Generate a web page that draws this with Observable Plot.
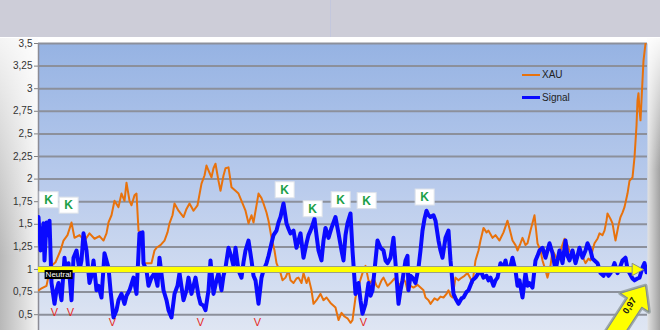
<!DOCTYPE html>
<html><head><meta charset="utf-8">
<script src="https://cdn.jsdelivr.net/npm/d3@7"></script>
<script src="https://cdn.jsdelivr.net/npm/@observablehq/plot@0.6"></script>
<style>
body{margin:0;background:#fff;}
#wrap{position:relative;width:660px;height:330px;overflow:hidden;font-family:"Liberation Sans",Arial,sans-serif;}
#hdr{position:absolute;left:0;top:0;width:660px;height:37px;background:#cdcdd8;}
#hdrline{position:absolute;left:330px;top:0;width:1px;height:37px;background:#c3c7dd;}
#lside{position:absolute;left:0;top:38px;width:38px;height:292px;background:linear-gradient(to bottom,rgba(255,255,255,.85),rgba(255,255,255,0) 75%),linear-gradient(to right,#b8b8b8,#f3f3f3);}
#rside{position:absolute;left:647px;top:38px;width:13px;height:292px;background:linear-gradient(to bottom,rgba(255,255,255,.95),rgba(255,255,255,0) 45%),linear-gradient(to right,#e4e4e4,#a2a2a2);}
#chart{position:absolute;left:0;top:38px;}
#legend{position:absolute;left:522px;top:63px;font-size:10px;color:#222;}
.row{display:flex;align-items:center;height:23px;}
.key{width:18px;margin-right:2px;}
</style>
</head><body>
<div id="wrap">
  <div id="hdr"></div><div id="hdrline"></div>
  <div id="lside"></div><div id="rside"></div>
  <div id="chart"></div>
  <div id="legend"></div>
</div>
<script>
// ---- data (x = week index, y = ratio) ----
const xau = [[0,0.77],[3,0.79],[8,0.82],[12,1.03],[17,1.08],[22,1.21],[25,1.32],[29,1.38],[33,1.52],[36,1.35],[41,1.38],[46,1.32],[51,1.40],[56,1.34],[61,1.37],[65,1.32],[68,1.40],[70,1.52],[73,1.60],[76,1.76],[80,1.69],[83,1.84],[86,1.76],[88,1.96],[91,1.76],[93,1.71],[96,1.82],[98,1.84],[100,1.43],[103,1.41],[105,1.07],[109,1.07],[113,1.07],[116,1.21],[118,1.24],[122,1.27],[126,1.32],[129,1.41],[131,1.51],[134,1.60],[136,1.73],[140,1.65],[145,1.58],[148,1.67],[151,1.73],[155,1.65],[159,1.71],[163,1.95],[166,2.04],[168,2.15],[171,2.07],[173,2.02],[175,2.12],[177,2.17],[180,1.98],[182,1.87],[185,2.04],[187,2.12],[190,2.13],[193,1.91],[197,1.87],[200,1.84],[203,1.76],[207,1.65],[210,1.51],[213,1.60],[215,1.52],[218,1.71],[220,1.84],[223,1.79],[225,1.73],[228,1.63],[230,1.54],[233,1.35],[236,1.21],[238,1.07],[242,0.96],[244,0.88],[247,0.91],[250,0.99],[252,0.88],[255,0.85],[258,0.90],[260,0.91],[263,0.85],[265,0.96],[268,0.85],[270,0.91],[273,0.77],[275,0.62],[278,0.66],[282,0.73],[285,0.66],[288,0.69],[292,0.63],[297,0.58],[300,0.44],[303,0.52],[306,0.48],[309,0.46],[312,0.41],[314,0.44],[317,0.69],[320,0.82],[324,0.96],[327,1.04],[330,0.88],[332,0.85],[335,0.91],[338,0.82],[340,0.80],[343,0.88],[345,0.91],[349,0.82],[352,0.85],[356,0.90],[359,0.86],[362,0.82],[364,0.91],[367,0.86],[369,0.77],[372,0.82],[375,0.80],[379,0.83],[382,0.80],[385,0.77],[387,0.69],[390,0.66],[392,0.62],[396,0.68],[399,0.66],[402,0.70],[405,0.69],[408,0.73],[410,0.77],[412,0.71],[414,0.69],[417,0.91],[420,0.88],[422,0.90],[426,0.93],[429,0.96],[432,0.90],[434,0.85],[437,1.10],[440,1.21],[442,1.32],[445,1.46],[448,1.41],[450,1.43],[454,1.35],[457,1.38],[461,1.32],[465,1.41],[469,1.54],[472,1.41],[474,1.32],[477,1.27],[479,1.21],[482,1.29],[484,1.35],[487,1.27],[489,1.29],[492,1.43],[496,1.60],[499,1.29],[502,1.21],[504,1.10],[507,0.99],[509,0.91],[512,1.04],[514,1.21],[517,1.15],[519,1.10],[522,1.21],[526,1.34],[529,1.27],[531,1.21],[534,1.15],[537,1.13],[540,1.19],[542,1.21],[545,1.12],[547,1.07],[550,1.12],[552,1.10],[554,1.21],[556,1.29],[559,1.34],[561,1.40],[564,1.38],[566,1.43],[568,1.54],[569,1.62],[572,1.56],[574,1.51],[576,1.38],[577,1.32],[580,1.49],[582,1.58],[584,1.63],[586,1.69],[589,1.84],[591,1.98],[594,2.02],[596,2.24],[598,2.59],[599,2.87],[600,2.95],[601,2.76],[602,2.65],[603,2.87],[604,3.09],[605,3.31],[607,3.50]];

const signal = [[0,1.58],[2,1.21],[3,1.32],[5,1.51],[6,1.10],[8,1.52],[10,1.38],[11,1.54],[13,0.85],[16,0.62],[18,0.77],[20,0.85],[23,0.66],[26,1.13],[28,0.93],[30,1.07],[33,0.66],[35,1.13],[38,1.21],[41,0.99],[43,1.10],[45,1.40],[48,1.21],[51,0.85],[53,0.93],[55,1.10],[58,0.77],[60,0.82],[63,0.69],[66,1.18],[68,1.10],[70,1.02],[72,0.77],[75,0.47],[78,0.55],[80,0.66],[83,0.73],[86,0.62],[88,0.71],[91,0.77],[95,0.91],[98,0.73],[101,1.40],[104,1.41],[105,1.07],[108,0.99],[110,0.82],[113,0.91],[116,0.96],[119,0.82],[121,1.13],[125,0.77],[128,0.66],[130,0.55],[133,0.47],[136,0.73],[139,0.82],[141,0.96],[145,0.66],[148,0.77],[150,0.91],[153,0.73],[157,0.91],[160,0.71],[162,0.62],[165,0.60],[167,0.55],[170,0.77],[172,1.10],[175,0.73],[178,0.88],[180,0.96],[183,0.77],[185,0.93],[187,1.02],[190,1.24],[193,1.13],[195,1.04],[197,1.24],[200,0.99],[203,0.91],[205,1.08],[207,1.21],[210,1.32],[213,1.10],[215,0.93],[217,0.88],[220,0.62],[223,0.91],[225,0.99],[228,1.07],[230,1.15],[233,1.29],[235,1.38],[238,1.43],[240,1.52],[242,1.58],[245,1.73],[248,1.51],[250,1.45],[252,1.40],[255,1.43],[258,1.24],[260,1.32],[262,1.40],[265,1.13],[268,1.29],[270,1.38],[272,1.43],[274,1.49],[276,1.56],[278,1.38],[280,1.21],[283,1.10],[285,1.32],[287,1.46],[290,1.35],[293,1.46],[295,1.52],[297,1.58],[300,1.40],[303,1.21],[305,1.10],[307,1.38],[309,1.51],[312,1.62],[314,1.21],[317,0.73],[320,0.85],[322,0.66],[324,0.51],[327,0.62],[330,0.85],[332,0.71],[334,0.77],[337,1.10],[339,1.32],[342,1.24],[345,1.21],[347,1.10],[349,1.07],[352,1.13],[355,1.35],[357,1.07],[360,0.62],[362,0.77],[364,0.88],[367,1.10],[369,1.15],[370,0.77],[372,0.93],[374,0.91],[377,0.85],[380,1.02],[382,1.21],[384,1.43],[386,1.56],[388,1.65],[390,1.60],[392,1.58],[395,1.60],[397,1.54],[400,1.32],[402,1.21],[404,1.13],[407,1.35],[410,1.43],[412,1.10],[415,0.73],[417,0.68],[420,0.62],[423,0.68],[425,0.69],[428,0.75],[430,0.77],[434,0.88],[437,0.91],[440,0.96],[442,0.99],[445,0.91],[448,0.93],[450,0.88],[452,0.91],[455,0.82],[457,0.88],[459,0.91],[462,1.07],[465,1.01],[467,1.10],[469,0.99],[471,0.99],[474,1.13],[477,0.99],[479,0.82],[481,0.88],[484,0.69],[487,0.96],[489,0.82],[491,0.85],[494,0.80],[497,1.10],[499,1.15],[501,1.21],[504,1.24],[507,1.13],[509,1.21],[511,1.29],[514,1.18],[517,0.99],[519,1.10],[521,1.21],[524,1.07],[527,1.32],[529,1.15],[531,1.10],[534,1.21],[537,1.07],[539,1.15],[541,1.24],[544,1.13],[547,1.21],[549,1.29],[552,1.21],[554,1.12],[556,1.10],[559,1.07],[562,0.96],[565,0.93],[567,0.99],[570,0.93],[572,0.96],[574,1.01],[576,1.07],[579,0.96],[581,1.01],[584,1.10],[587,1.13],[589,1.01],[591,0.96],[594,0.90],[596,0.88],[599,0.90],[601,0.91],[604,1.02],[606,1.07],[608,0.97]];

const kSignals = [[10,1.77],[30,1.71],[246,1.88],[274,1.67],[302,1.77],[328,1.76],[386,1.80]];
const vSignals = [[16,0.52],[32,0.52],[74,0.415],[162,0.41],[219,0.41],[325,0.415]];
const yTicks = [0.5,0.75,1,1.25,1.5,1.75,2,2.25,2.5,2.75,3,3.25,3.5];
const seriesNames = ["XAU","Signal"];
const seriesColors = ["#e8720c","#0a0aff"];
const neutralLevel = 1;
const neutralSpan = [0, 596, 605];   // start, line end, arrow tip (weeks)
const neutralLabel = ["Neutral"];
const neutralLabelPos = [20, 1];
const lastSignal = 0.97;
const calloutTip = [607, 0.82];
const calloutText = [591, 0.6];

const fmt = d => String(d).replace(".", ",");

const triangle = {draw(ctx, l){ ctx.moveTo(-6,0); ctx.lineTo(0,-l); ctx.lineTo(6,0); ctx.closePath(); }};
const blockArrow = {draw(ctx, l){
  const hl = 20, hw = 17, sw = 8.5, b = -(l - hl);
  ctx.moveTo(-sw,0); ctx.lineTo(-sw,b); ctx.lineTo(-hw,b); ctx.lineTo(0,-l);
  ctx.lineTo(hw,b); ctx.lineTo(sw,b); ctx.lineTo(sw,0); ctx.closePath();
}};

const chart = Plot.plot({
  width: 660, height: 292,
  marginLeft: 38, marginRight: 13, marginTop: 5, marginBottom: 0,
  style: {background: "transparent", fontFamily: "'Liberation Sans', Arial, sans-serif", fontSize: "10px", overflow: "visible"},
  x: {domain: [0, 609], axis: null},
  y: {domain: [0.325, 3.5], axis: null},
  marks: [
    Plot.frame({fill: "url(#bg)", stroke: null}),
    Plot.gridY(yTicks, {stroke: "#8c909b", strokeOpacity: 1, strokeWidth: 2}),
    Plot.axisY(yTicks, {tickFormat: fmt, tickSize: 4, tickPadding: 2, stroke: "#808080", fill: "#333", fontSize: 10}),
    Plot.ruleX([0], {stroke: "#8c8c96", strokeWidth: 1.5}),
    Plot.line(xau, {x: d => d[0], y: d => d[1], stroke: seriesColors[0], strokeWidth: 2, clip: true}),
    Plot.line(signal, {x: d => d[0], y: d => d[1], stroke: seriesColors[1], strokeWidth: 4, strokeLinejoin: "round", clip: true}),
    Plot.ruleY([neutralLevel], {x1: neutralSpan[0], x2: neutralSpan[1], stroke: "#9aa08a", strokeWidth: 7}),
    Plot.ruleY([neutralLevel], {x1: neutralSpan[0], x2: neutralSpan[1], stroke: "#ffff00", strokeWidth: 5}),
    Plot.vector([neutralLevel], {x: neutralSpan[2], y: d => d, rotate: 90, length: 11, anchor: "end", shape: triangle, fill: "#ffff00", stroke: "#8d927a", strokeWidth: 1}),
    Plot.text(kSignals, {x: d => d[0], y: d => d[1], text: () => "K", fill: "#1c9f47", fontWeight: "bold", fontSize: 12}),
    Plot.text(vSignals, {x: d => d[0], y: d => d[1], text: () => "V", fill: "#e5281c", fontSize: 11}),
    Plot.text(neutralLabel, {x: neutralLabelPos[0], y: neutralLabelPos[1], dy: 5, text: d => d, fill: "#fff", fontSize: 8}),
    Plot.vector([lastSignal], {x: calloutTip[0], y: calloutTip[1], rotate: 33, length: 72, anchor: "end", shape: blockArrow, fill: "#8e9a9a", stroke: "#8e9a9a", strokeWidth: 4, strokeOpacity: 0.8, fillOpacity: 0.8}),
    Plot.vector([lastSignal], {x: calloutTip[0], y: calloutTip[1], rotate: 33, length: 72, anchor: "end", shape: blockArrow, fill: "#ffff00", stroke: "#7f8b8b", strokeWidth: 1}),
    Plot.text([lastSignal], {x: calloutText[0], y: calloutText[1], text: d => fmt(d), rotate: -57, fill: "#111", fontSize: 9, fontWeight: "bold"})
  ]
});
const ns = "http://www.w3.org/2000/svg";
const defs = document.createElementNS(ns, "defs");
defs.innerHTML = '<linearGradient id="bg" x1="0" y1="0" x2="0" y2="1"><stop offset="0" stop-color="#96b3e3"/><stop offset="0.5" stop-color="#b9cbec"/><stop offset="1" stop-color="#dfe6f3"/></linearGradient>';
chart.insertBefore(defs, chart.firstChild);
document.getElementById("chart").append(chart);

function boxes(label, px, py, fill, stroke){
  Array.from(chart.querySelectorAll("text")).filter(t => t.textContent === label).forEach(t => {
    const b = t.getBBox();
    const r = document.createElementNS(ns, "rect");
    r.setAttribute("x", b.x - px); r.setAttribute("y", b.y - py);
    r.setAttribute("width", b.width + 2*px); r.setAttribute("height", b.height + 2*py);
    r.setAttribute("fill", fill); r.setAttribute("stroke", stroke || "none");
    const tr = t.getAttribute("transform"); if (tr) r.setAttribute("transform", tr);
    t.parentNode.insertBefore(r, t);
  });
}
boxes("K", 5, 1, "#fff", "#dfe3ea");
boxes(neutralLabel[0], 1, 0, "#000", null);

const legend = document.getElementById("legend");
seriesNames.forEach((n, i) => {
  const row = document.createElement("div"); row.className = "row";
  const key = document.createElement("div"); key.className = "key";
  key.style.borderTop = `${i ? 3 : 2}px solid ${seriesColors[i]}`;
  const lab = document.createElement("span"); lab.textContent = n;
  row.append(key, lab); legend.append(row);
});
</script>
</body></html>
